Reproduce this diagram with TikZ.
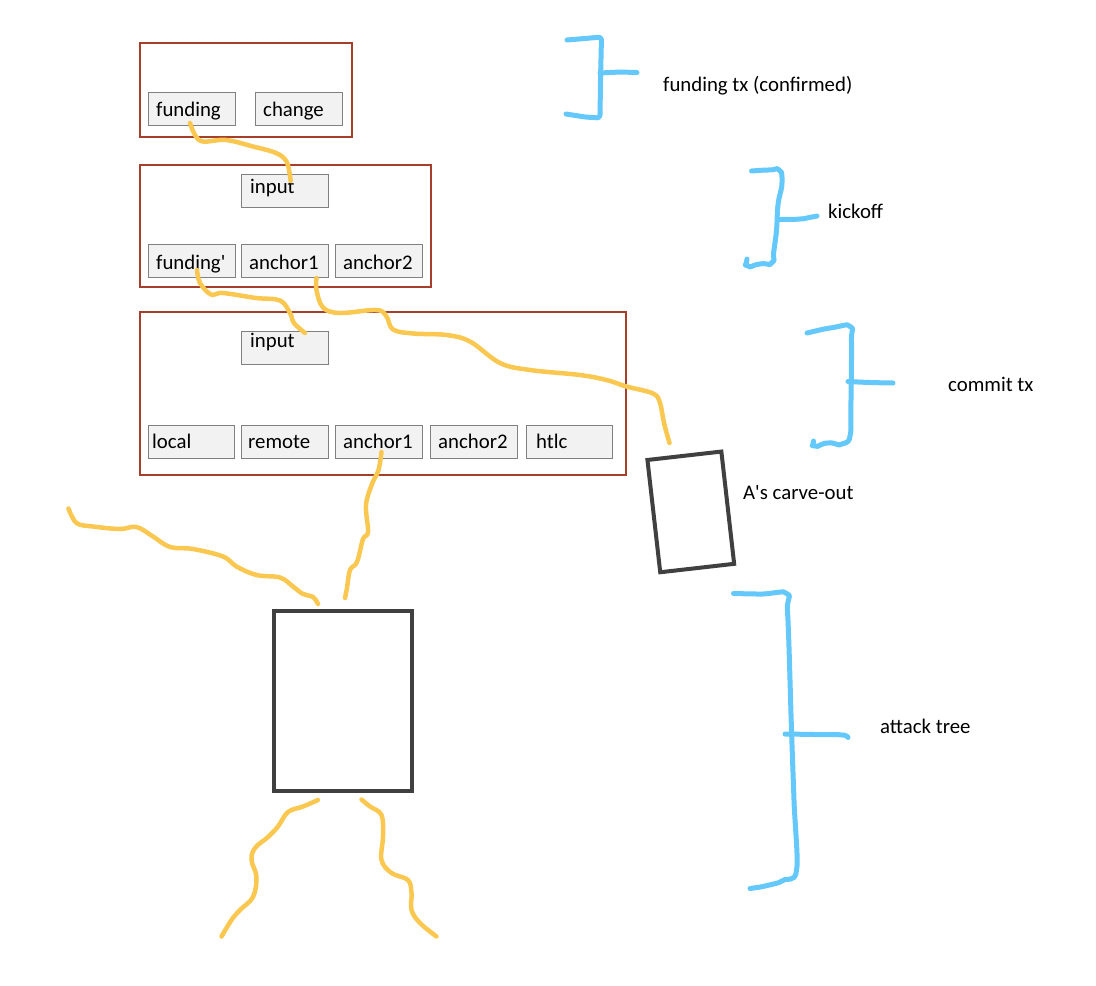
\documentclass[tikz,border=0pt]{standalone}
\usepackage{fontspec}
\setmainfont{Carlito}
\definecolor{boxred}{RGB}{165,62,42}
\definecolor{cellfill}{RGB}{242,242,242}
\definecolor{cellline}{RGB}{128,128,128}
\definecolor{darkline}{RGB}{64,64,64}
\definecolor{inkblue}{RGB}{100,200,250}
\definecolor{inkyellow}{RGB}{250,200,80}
\begin{document}
\begin{tikzpicture}[x=1pt,y=-1pt,
  txbox/.style={draw=boxred, line width=2pt, inner sep=0pt, anchor=north west},
  cell/.style={draw=cellline, fill=cellfill, line width=1.3pt, inner sep=0pt, anchor=north west, minimum width=87pt, minimum height=33pt},
  lbl/.style={inner sep=0pt, anchor=base west, font=\fontsize{20.8}{24}\selectfont},
  darkbox/.style={draw=darkline, line width=4pt, inner sep=0pt},
  ink/.style={draw=inkyellow, line width=4.5pt, line cap=round, line join=round},
  brace/.style={draw=inkblue, line width=5pt, line cap=round, line join=round, rounded corners=3pt}]
\useasboundingbox (0,0) rectangle (1096,986);
\fill[white] (0,0) rectangle (1096,986);

% funding tx
\node[txbox, minimum width=212pt, minimum height=94pt] (tx1) at (139,42) {};
\node[cell] (fund) at (148,92) {};
\node[cell] (chg) at (255,92) {};
\node[lbl] at (156,116) {funding};
\node[lbl] at (263,116) {change};

% kickoff
\node[txbox, minimum width=291pt, minimum height=122pt] (tx2) at (139,164) {};
\node[cell] (kin) at (241,174) {};
\node[cell] (kfund) at (148,244) {};
\node[cell] (ka1) at (241,244) {};
\node[cell] (ka2) at (335,244) {};
\node[lbl] at (250,193) {input};
\node[lbl] at (156,269) {funding\textquotesingle};
\node[lbl] at (249,269) {anchor1};
\node[lbl] at (343,269) {anchor2};

% commit
\node[txbox, minimum width=486pt, minimum height=163pt] (tx3) at (139,311) {};
\node[cell] (cin) at (241,331) {};
\node[cell, minimum width=86pt] (cloc) at (148,425) {};
\node[cell] (crem) at (241,425) {};
\node[cell] (ca1) at (335,425) {};
\node[cell] (ca2) at (430,425) {};
\node[cell, minimum width=86pt] (chtlc) at (526,425) {};
\node[lbl] at (250,347) {input};
\node[lbl] at (152,448) {local};
\node[lbl] at (248,448) {remote};
\node[lbl] at (343,448) {anchor1};
\node[lbl] at (438,448) {anchor2};
\node[lbl] at (536,448) {htlc};

% dark boxes
\node[darkbox, minimum width=74.4pt, minimum height=113pt, rotate=6.5] (carve) at (690.8,511.9) {};
\node[darkbox, minimum width=138pt, minimum height=180pt, anchor=north west] (attack) at (272,609) {};

% labels
\node[lbl] (l1) at (663,91) {funding tx (confirmed)};
\node[lbl] (l2) at (828,218) {kickoff};
\node[lbl] (l3) at (948,391) {commit tx};
\node[lbl] (l4) at (743,499) {A\textquotesingle s carve-out};
\node[lbl] (l5) at (880,733) {attack tree};

% yellow links
\draw[ink] plot[smooth, tension=0.6] coordinates {(190,123) (195,135) (203,141.5) (226,140) (253,146.5) (276,153) (286.5,161.5) (290,176) (290.5,181)};
\draw[ink] plot[smooth, tension=0.6] coordinates {(197,270) (200,283) (211,294.5) (223,293) (256,298) (280,300.5) (290,313) (294,323) (305,333)};
\draw[ink] plot[smooth, tension=0.6] coordinates {(316.5,278) (316.5,290) (323,307.5) (340,313) (376.5,310) (386.5,316.5) (393,329.5) (413,333.5) (446.5,335) (470,341.5) (500,363) (530,370) (580,375) (606.5,380) (626.5,386.5) (653,393.5) (660,403) (664,423) (669.5,443)};
\draw[ink] plot[smooth, tension=0.6] coordinates {(381.5,452) (378.5,470) (372,484) (366,505) (368,532) (363,539) (357,562) (350,570) (347,588) (345,598)};
\draw[ink] plot[smooth, tension=0.6] coordinates {(68.5,508.5) (76.5,523) (93,526.5) (120,529) (136.5,527) (153,536.5) (170,547) (193,549) (223,556.5) (236.5,566.5) (256.5,575) (280,577.5) (293,586.5) (303,594) (313,597) (318,604)};
\draw[ink] plot[smooth, tension=0.6] coordinates {(318,800) (303,806.5) (288,812) (278,826.5) (268,837) (255,848) (251.5,860) (256.5,877) (253,897) (240,910) (231.5,920) (221.5,936.5)};
\draw[ink] plot[smooth, tension=0.6] coordinates {(361.5,799.5) (370,806.5) (381.5,815) (383,836.5) (381.5,860) (391.5,873) (408,880) (411.5,893) (411.5,910) (420,923) (436.5,936.5)};

% blue braces
\draw[brace] (567,40) -- (585,38.5) -- (601.5,37) -- (600.5,80) -- (600,118) -- (585,117) -- (566,114);
\draw[brace] (600,73) -- (620,72) -- (637,72.5);
\draw[brace] plot[smooth, tension=0.5] coordinates {(751.5,171) (768,170) (779.5,170.5) (782,183) (778,205) (776.5,230) (774,250) (772,262.5) (760,264) (748,266) (747,259)};
\draw[brace] plot[smooth, tension=0.5] coordinates {(779,219.5) (800,219) (812,217) (817,216)};
\draw[brace] plot[smooth, tension=0.5] coordinates {(807,333) (830,328) (850,326.5) (851.5,343) (851,400) (850,436) (842,444) (828,443) (815,446) (813.5,441)};
\draw[brace] plot[smooth, tension=0.5] coordinates {(848,381.5) (870,382.5) (893,383)};
\draw[brace] plot[smooth, tension=0.5] coordinates {(733.5,593.5) (760,594) (786.5,593.5) (787.5,610) (789,647) (791.5,730) (794,800) (796.5,870) (782,881) (765,886) (750,888.5)};
\draw[brace] plot[smooth, tension=0.5] coordinates {(785,734) (815,734.5) (842,735) (848,737.5)};
\end{tikzpicture}
\end{document}
